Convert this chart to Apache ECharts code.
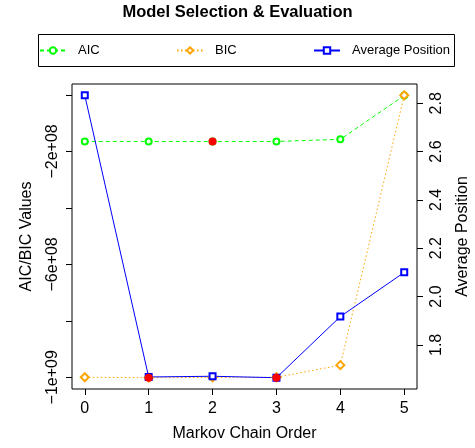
<!DOCTYPE html>
<html>
<head>
<meta charset="utf-8">
<script src="https://cdn.jsdelivr.net/npm/echarts@6/dist/echarts.min.js"></script>
<style>
  html, body {margin:0; padding:0; background:#fff;}
  #main {width:475px; height:448px;}
</style>
</head>
<body>
<div id="main"></div>
<script>
let orders = [0, 1, 2, 3, 4, 5];
let aic_data = [-1.645e8, -1.645e8, -1.65e8, -1.645e8, -1.57e8, -2e6];
let bic_data = [-1.0e9, -1.0015e9, -1.0005e9, -1.0e9, -9.57e8, -1e6];
let avgpos_data = [2.833, 1.667, 1.670, 1.664, 1.917, 2.1];
let left_ticks = [0, -2e8, -4e8, -6e8, -8e8, -1e9];
let left_labels = [-2e8, -6e8, -1e9];
let right_ticks = [1.8, 2.0, 2.2, 2.4, 2.6, 2.8];

function argmin(arr){
    let k = 0;
    for (let i = 1; i < arr.length; i++) if (arr[i] < arr[k]) k = i;
    return k;
}
// R style axis range: data range + 4% each side
function rrange(arr){
    let lo = Math.min.apply(null, arr), hi = Math.max.apply(null, arr);
    let d = (hi - lo) * 0.04;
    return [lo - d, hi + d];
}
function sci(v){
    if (v === 0) return '0';
    let s = Math.abs(v).toExponential(0).split('e');
    let ex = parseInt(s[1], 10);
    let es = (ex < 0 ? '-' : '+') + (Math.abs(ex) < 10 ? '0' : '') + Math.abs(ex);
    return (v < 0 ? '\u2212' : '') + s[0] + 'e' + es;
}

let font = 'Liberation Sans, Arial, Helvetica, sans-serif';
let lr = rrange(aic_data.concat(bic_data));
let rr = rrange(avgpos_data);
let xr = rrange(orders);

let ba = argmin(aic_data), bb = argmin(bic_data), bp = argmin(avgpos_data);

let chart = echarts.init(document.getElementById('main'));
let option = {
    animation: false,
    backgroundColor: '#fff',
    textStyle: {fontFamily: font},
    title: {
        text: 'Model Selection & Evaluation',
        left: 'center', top: -1,
        textStyle: {fontSize: 16.5, fontWeight: 'bold', color: '#000', fontFamily: font}
    },
    legend: [
        {data: ['AIC'], left: 39},
        {data: ['BIC'], left: 176},
        {data: ['Average Position'], left: 313}
    ].map(function(l){
        return Object.assign(l, {
            top: 44, padding: 0, itemWidth: 26, itemHeight: 8,
            textStyle: {fontSize: 13, color: '#000', fontFamily: font, padding: [0, 0, 0, 7]}
        });
    }),
    graphic: [{
        type: 'rect', left: 36, top: 32,
        shape: {width: 416, height: 32},
        style: {fill: 'none', stroke: '#000', lineWidth: 1},
        silent: true
    }],
    grid: {
        left: 72, top: 84, right: 58, bottom: 59,
        show: true, borderColor: '#000', borderWidth: 1,
        outerBoundsMode: 'none'
    },
    xAxis: {
        type: 'value', min: xr[0], max: xr[1],
        name: 'Markov Chain Order', nameLocation: 'middle', nameGap: 37,
        nameTextStyle: {fontSize: 16, color: '#000', fontFamily: font},
        axisLine: {show: false, onZero: false},
        axisTick: {show: true, length: 6, lineStyle: {color: '#000'}, customValues: orders},
        axisLabel: {fontSize: 16, color: '#000', margin: 12, customValues: orders},
        splitLine: {show: false}
    },
    yAxis: [
        {
            type: 'value', min: lr[0], max: lr[1], position: 'left',
            name: 'AIC/BIC Values', nameLocation: 'middle', nameGap: 37,
            nameTextStyle: {fontSize: 16, color: '#000', fontFamily: font},
            axisLine: {show: false, onZero: false},
            axisTick: {show: true, length: 6, lineStyle: {color: '#000'}, customValues: left_ticks},
            axisLabel: {fontSize: 16, color: '#000', margin: 11, rotate: 90,
                customValues: left_labels, formatter: sci},
            splitLine: {show: false}
        },
        {
            type: 'value', min: rr[0], max: rr[1], position: 'right',
            name: 'Average Position', nameLocation: 'middle', nameGap: 38,
            nameTextStyle: {fontSize: 16, color: '#000', fontFamily: font},
            axisLine: {show: false, onZero: false},
            axisTick: {show: true, length: 6, lineStyle: {color: '#000'}, customValues: right_ticks},
            axisLabel: {fontSize: 16, color: '#000', margin: 12, rotate: 90,
                customValues: right_ticks, formatter: function(v){ return v.toFixed(1); }},
            splitLine: {show: false}
        }
    ],
    series: [
        {
            name: 'AIC', type: 'line', yAxisIndex: 0,
            data: orders.map(function(o, i){ return [o, aic_data[i]]; }),
            symbol: 'emptyCircle', symbolSize: 6,
            lineStyle: {color: '#00ff00', width: 1, type: [4, 3]},
            itemStyle: {color: '#00ff00', borderWidth: 1}
        },
        {
            name: 'BIC', type: 'line', yAxisIndex: 0,
            data: orders.map(function(o, i){ return [o, bic_data[i]]; }),
            symbol: 'emptyDiamond', symbolSize: 8,
            lineStyle: {color: '#ffa500', width: 1, type: [1.5, 2.5]},
            itemStyle: {color: '#ffa500', borderWidth: 1}
        },
        {
            name: 'Average Position', type: 'line', yAxisIndex: 1,
            data: orders.map(function(o, i){ return [o, avgpos_data[i]]; }),
            symbol: 'emptyRect', symbolSize: 6,
            lineStyle: {color: '#0000ff', width: 1},
            itemStyle: {color: '#0000ff', borderWidth: 1}
        },
        {
            name: 'best_left', type: 'scatter', yAxisIndex: 0, zlevel: 1,
            data: [[orders[ba], aic_data[ba]], [orders[bb], bic_data[bb]]],
            symbol: 'circle', symbolSize: 8, itemStyle: {color: '#ff0000', opacity: 1}
        },
        {
            name: 'best_right', type: 'scatter', yAxisIndex: 1, zlevel: 1,
            data: [[orders[bp], avgpos_data[bp]]],
            symbol: 'circle', symbolSize: 8, itemStyle: {color: '#ff0000', opacity: 1}
        }
    ]
};
chart.setOption(option);
</script>
</body>
</html>
